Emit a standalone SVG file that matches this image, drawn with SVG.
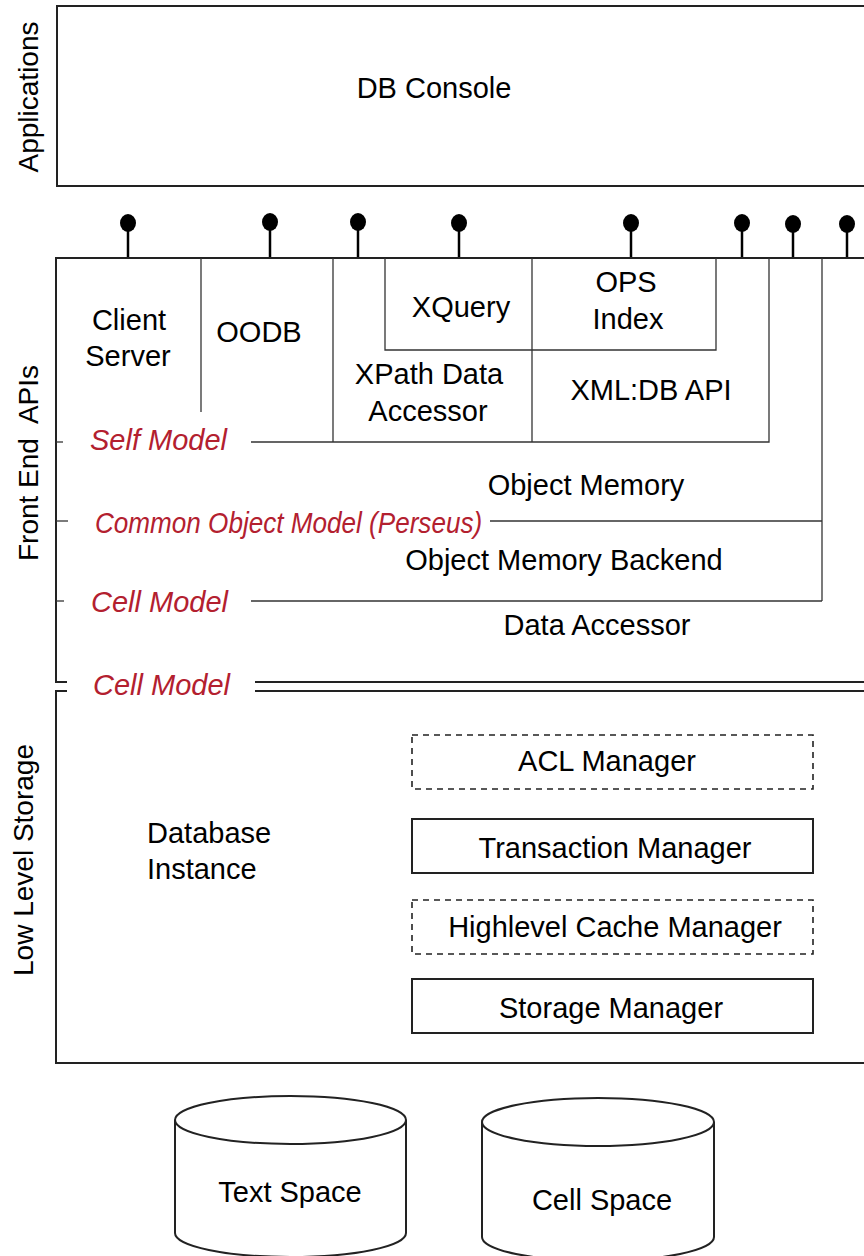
<svg xmlns="http://www.w3.org/2000/svg" width="864" height="1256" viewBox="0 0 864 1256">
<style>
.t{font-family:"Liberation Sans",Arial,sans-serif;font-size:29px;fill:#000}
.c{text-anchor:middle}
.r{font-family:"Liberation Sans",Arial,sans-serif;font-size:29px;font-style:italic;fill:#b3202f}
.v{font-family:"Liberation Sans",Arial,sans-serif;font-size:28px;fill:#000;text-anchor:middle}
.box{fill:none;stroke:#222;stroke-width:2}
.thin{fill:none;stroke:#333;stroke-width:1.3}
.dash{fill:none;stroke:#222;stroke-width:1.6;stroke-dasharray:6 5}
.stem{stroke:#000;stroke-width:2.5}
.ball{fill:#000}
</style>
<rect width="864" height="1256" fill="#fff"/>

<g id="layer-labels">
<text class="v" transform="translate(38,97) rotate(-90)">Applications</text>
<text class="v" transform="translate(38,463) rotate(-90)" xml:space="preserve">Front End  APIs</text>
<text class="v" transform="translate(33,860) rotate(-90)">Low Level Storage</text>
</g>

<g id="applications">
<path class="box" d="M866,6 H57 V186 H866"/>
<text class="t c" x="434" y="98">DB Console</text>
</g>

<g id="connectors">
<line class="stem" x1="128" y1="223" x2="128" y2="258"/><ellipse class="ball" cx="128" cy="223" rx="8" ry="9"/>
<line class="stem" x1="270" y1="222" x2="270" y2="258"/><ellipse class="ball" cx="270" cy="222" rx="8" ry="9"/>
<line class="stem" x1="358" y1="222" x2="358" y2="258"/><ellipse class="ball" cx="358" cy="222" rx="8" ry="9"/>
<line class="stem" x1="459" y1="223" x2="459" y2="258"/><ellipse class="ball" cx="459" cy="223" rx="8" ry="9"/>
<line class="stem" x1="631" y1="223" x2="631" y2="258"/><ellipse class="ball" cx="631" cy="223" rx="8" ry="9"/>
<line class="stem" x1="742" y1="223" x2="742" y2="258"/><ellipse class="ball" cx="742" cy="223" rx="8" ry="9"/>
<line class="stem" x1="793" y1="224" x2="793" y2="258"/><ellipse class="ball" cx="793" cy="224" rx="8" ry="9"/>
<line class="stem" x1="847" y1="224" x2="847" y2="258"/><ellipse class="ball" cx="847" cy="224" rx="8" ry="9"/>
</g>

<g id="front-end">
<path class="box" d="M866,258 H56 V682 H67"/>
<line class="thin" x1="201" y1="258" x2="201" y2="412"/>
<line class="thin" x1="333" y1="258" x2="333" y2="442"/>
<path class="thin" d="M385,258 V350 H716 V258"/>
<line class="thin" x1="532" y1="258" x2="532" y2="442"/>
<path class="thin" d="M251,442 H769 V258"/>
<line class="thin" x1="822" y1="258" x2="822" y2="601"/>
<line class="thin" x1="56" y1="442" x2="63" y2="442"/>
<line class="thin" x1="56" y1="521" x2="68" y2="521"/>
<line class="thin" x1="490" y1="521" x2="822" y2="521"/>
<line class="thin" x1="56" y1="601" x2="64" y2="601"/>
<line class="thin" x1="251" y1="601" x2="822" y2="601"/>
<line class="box" x1="255" y1="682" x2="866" y2="682"/>

<text class="t c" x="129" y="330">Client</text>
<text class="t c" x="128" y="366">Server</text>
<text class="t c" x="259" y="342">OODB</text>
<text class="t c" x="461" y="317">XQuery</text>
<text class="t c" x="626" y="292">OPS</text>
<text class="t c" x="628" y="329">Index</text>
<text class="t c" x="429" y="384">XPath Data</text>
<text class="t c" x="428" y="421">Accessor</text>
<text class="t c" x="651" y="400">XML:DB API</text>
<text class="r" x="90" y="450">Self Model</text>
<text class="t c" x="586" y="495">Object Memory</text>
<text class="r" transform="translate(95,533) scale(0.9,1)">Common Object Model (Perseus)</text>
<text class="t c" x="564" y="570">Object Memory Backend</text>
<text class="r" x="91" y="612">Cell Model</text>
<text class="t c" x="597" y="635">Data Accessor</text>
<text class="r" x="93" y="695">Cell Model</text>
</g>

<g id="low-level-storage">
<path class="box" d="M67,691 H56 V1063 H866"/>
<line class="box" x1="255" y1="691" x2="866" y2="691"/>
<text class="t" x="147" y="843">Database</text>
<text class="t" x="147" y="879">Instance</text>
</g>

<g id="acl-manager">
<rect class="dash" x="412" y="735" width="401" height="54"/>
<text class="t c" x="607" y="771">ACL Manager</text>
</g>
<g id="transaction-manager">
<rect class="box" x="412" y="819" width="401" height="54"/>
<text class="t c" x="615" y="858">Transaction Manager</text>
</g>
<g id="highlevel-cache-manager">
<rect class="dash" x="412" y="900" width="401" height="54"/>
<text class="t c" x="615" y="937">Highlevel Cache Manager</text>
</g>
<g id="storage-manager">
<rect class="box" x="412" y="979" width="401" height="54"/>
<text class="t c" x="611" y="1018">Storage Manager</text>
</g>

<g id="text-space">
<path class="box" d="M175,1120 V1233 A115.5,24 0 0 0 406,1233 V1120"/>
<ellipse class="box" cx="290.5" cy="1120" rx="115.5" ry="24"/>
<text class="t c" x="290" y="1202">Text Space</text>
</g>
<g id="cell-space">
<path class="box" d="M482,1122 V1237 A116,24 0 0 0 714,1237 V1122"/>
<ellipse class="box" cx="598" cy="1122" rx="116" ry="24"/>
<text class="t c" x="602" y="1210">Cell Space</text>
</g>
</svg>
